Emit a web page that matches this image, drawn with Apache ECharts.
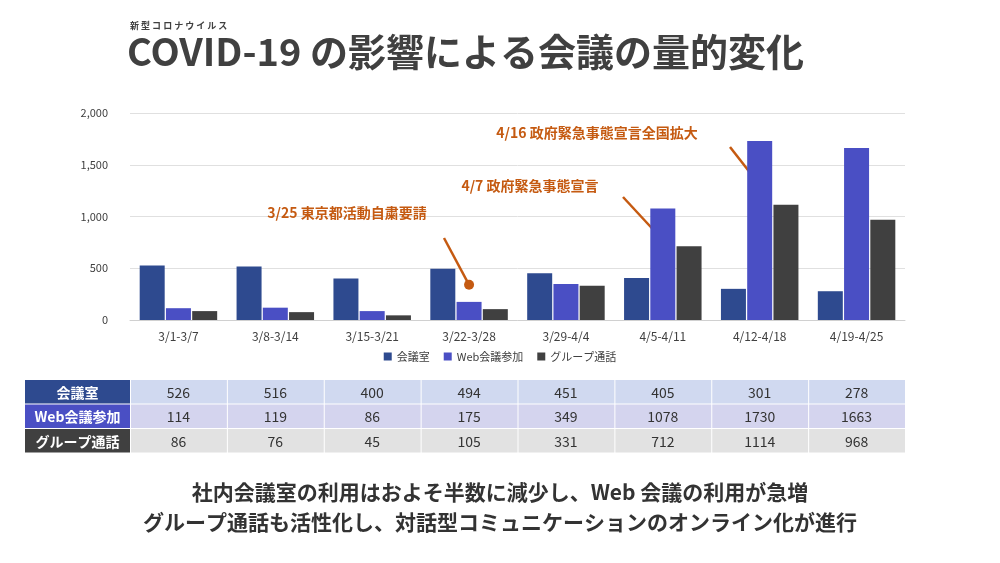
<!DOCTYPE html>
<html><head><meta charset="utf-8">
<script src="https://cdn.jsdelivr.net/npm/echarts@6/dist/echarts.min.js"></script>
<style>body{margin:0}#c{width:1000px;height:563px}</style></head>
<body><div id="c"></div>
<script>
const categories = ["3/1-3/7","3/8-3/14","3/15-3/21","3/22-3/28","3/29-4/4","4/5-4/11","4/12-4/18","4/19-4/25"];
const seriesNames = ["会議室","Web会議参加","グループ通話"];
const kaigishitsu = [526,516,400,494,451,405,301,278];
const webKaigi = [114,119,86,175,349,1078,1730,1663];
const groupTsuwa = [86,76,45,105,331,712,1114,968];
// annotations: [label, category index, value at dot, text x, text y, line start x, y]
const notes = [
  ["3/25 東京都活動自粛要請", 3, 340, 347, 213, 444, 238],
  ["4/7 政府緊急事態宣言", 5, 773, 530, 186, 623, 197],
  ["4/16 政府緊急事態宣言全国拡大", 6, 1304, 597, 133, 730, 147]
];

const colors = ["#2e4a8f","#4a4fc4","#404040"];
const rowBg = ["#d0d9f0","#d4d4ee","#e2e2e2"];
const font = "'Noto Sans CJK JP', sans-serif";
const chart = echarts.init(document.getElementById("c"));
const data = [kaigishitsu, webKaigi, groupTsuwa];

chart.setOption({
  textStyle: { fontFamily: font },
  title: [
    { text: "COVID-19 の影響による会議の量的変化", left: 122, top: 28,
      textStyle: { fontSize: 38, fontWeight: "bold", color: "#404040", fontFamily: font } },
    { text: "新 型 コ ロ ナ ウ イ ル ス", left: 125, top: 16,
      textStyle: { fontSize: 9, fontWeight: "bold", color: "#404040", fontFamily: font } }
  ],
  legend: { bottom: 196, itemWidth: 8, itemHeight: 8, itemGap: 14, icon: "rect",
    textStyle: { fontSize: 11, color: "#404040" } },
  grid: { left: 130, right: 95, top: 113, height: 207 },
  xAxis: { type: "category", data: categories,
    axisLine: { lineStyle: { color: "#d0d0d0" } }, axisTick: { show: false },
    axisLabel: { color: "#404040", fontSize: 12, margin: 10 } },
  yAxis: { type: "value", min: 0, max: 2000, interval: 500,
    axisLabel: { color: "#404040", fontSize: 11, margin: 22 },
    splitLine: { lineStyle: { color: "#e0e0e0" } } },
  series: seriesNames.map((n, i) => ({ name: n, type: "bar", data: data[i],
    barWidth: 25, barGap: "5%", itemStyle: { color: colors[i] } }))
});

const g = [];
// table
const x0 = 25, hw = 105, tTop = 380, rh = 24.5;
const step = chart.convertToPixel({ xAxisIndex: 0 }, categories[1]) - chart.convertToPixel({ xAxisIndex: 0 }, categories[0]);
seriesNames.forEach((n, r) => {
  const y = tTop + r * rh;
  g.push({ type: "rect", shape: { x: x0, y, width: hw, height: rh - 1 }, style: { fill: colors[r] } });
  g.push({ type: "text", x: x0 + hw / 2, y: y + rh / 2, style: { text: n, fill: "#fff", font: "bold 14px " + font, align: "center", verticalAlign: "middle" } });
  data[r].forEach((v, c) => {
    const cx = chart.convertToPixel({ xAxisIndex: 0 }, categories[c]);
    g.push({ type: "rect", shape: { x: cx - step / 2 + 1, y, width: step - 1, height: rh - 1 }, style: { fill: rowBg[r] } });
    g.push({ type: "text", x: cx, y: y + rh / 2, style: { text: String(v), fill: "#333", font: "14px " + font, align: "center", verticalAlign: "middle" } });
  });
});
// annotations
notes.forEach(([t, ci, val, tx, ty, lx, ly]) => {
  const p = chart.convertToPixel({ gridIndex: 0 }, [ci, val]);
  g.push({ type: "text", x: tx, y: ty, style: { text: t, fill: "#c55a11", font: "bold 14px " + font, align: "center", verticalAlign: "middle" } });
  g.push({ type: "line", shape: { x1: lx, y1: ly, x2: p[0], y2: p[1] }, style: { stroke: "#c55a11", lineWidth: 2.5 } });
  g.push({ type: "circle", shape: { cx: p[0], cy: p[1], r: 5 }, style: { fill: "#c55a11" } });
});
// bottom text
["社内会議室の利用はおよそ半数に減少し、Web 会議の利用が急増", "グループ通話も活性化し、対話型コミュニケーションのオンライン化が進行"].forEach((t, i) => {
  g.push({ type: "text", x: 500, y: 492 + i * 30, style: { text: t, fill: "#333", font: "bold 21px " + font, align: "center", verticalAlign: "middle" } });
});
chart.setOption({ graphic: g });
</script></body></html>
